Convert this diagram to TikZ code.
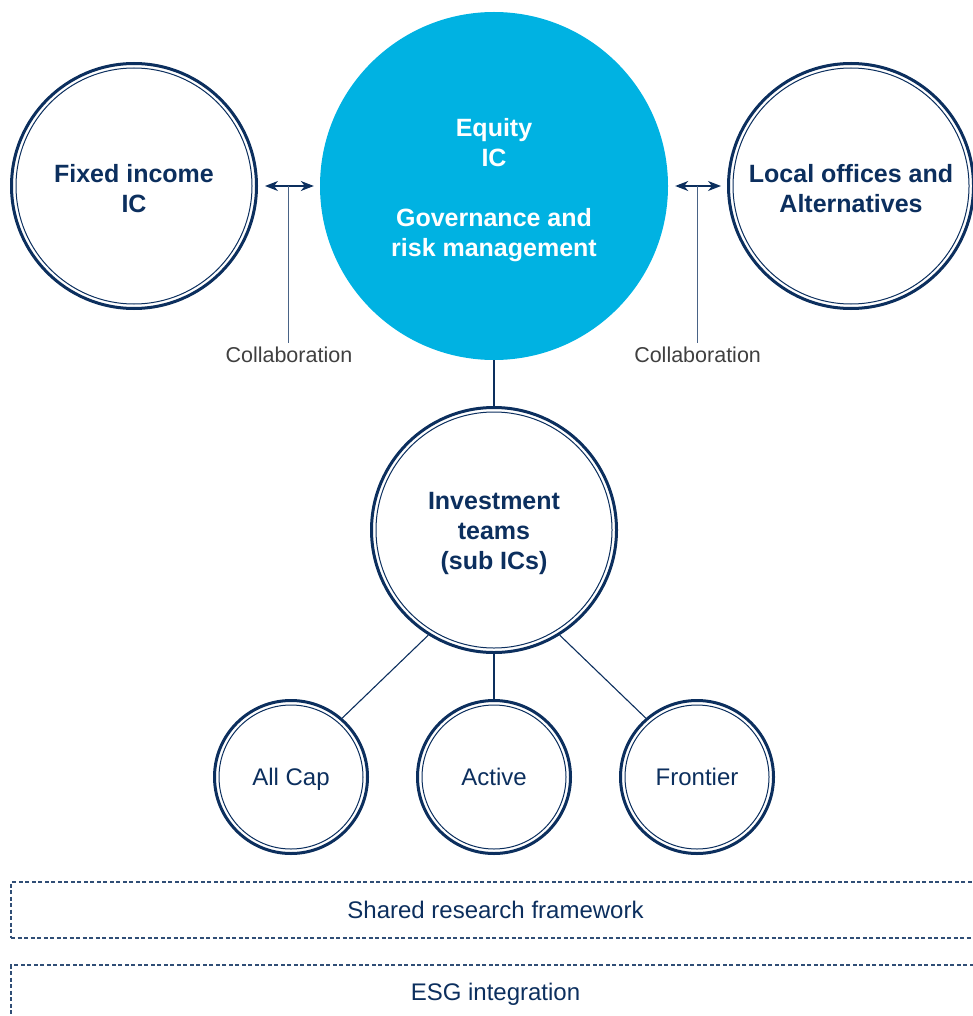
\documentclass[tikz,border=0pt]{standalone}
\usepackage{fontspec}
\setmainfont{Liberation Sans}
\usetikzlibrary{calc,arrows.meta}
\definecolor{navy}{HTML}{0C2F5E}
\definecolor{eqblue}{HTML}{00B2E2}
\definecolor{collgray}{HTML}{404040}
\def\titlefont{\fontsize{25}{30}\selectfont\bfseries}
\def\plainfont{\fontsize{24}{29}\selectfont}
\def\topstrut{\rule{0pt}{24pt}}
\tikzset{
	ring/.style={circle, draw=navy, fill=white, line width=3pt, inner sep=0pt, minimum size={2*#1pt-3pt}, text=navy, align=center,
		path picture={\draw[navy, line width=1pt] (path picture bounding box.center) circle [radius={#1pt-6pt}];}},
	leaf/.style={ring=78, font=\plainfont, text depth=0pt},
	hub/.style={circle, fill=eqblue, inner sep=0pt, minimum size=348pt, text=white, align=center, font=\titlefont},
	band/.style={draw=navy!85, line width=1.2pt, dash pattern=on 4pt off 2.5pt, minimum width=969pt, text=navy, font=\plainfont},
	link/.style={draw=navy, line width=1.1pt},
	twoway/.style={{Stealth[length=13pt,width=10pt,inset=4pt]}-{Stealth[length=13pt,width=10pt,inset=4pt]}, navy, line width=1.3pt, shorten <=7pt, shorten >=6pt},
	collab/.style={text=collgray, inner sep=4pt, font=\fontsize{21.5}{26}\selectfont}
}

\begin{document}
\begin{tikzpicture}[x=1pt, y=-1pt]
			%%%%% START %%%%%
			\useasboundingbox (0, 0) rectangle (972, 1016);
			
			\node[hub] (equity) at (494, 186) {\rule{0pt}{27pt}Equity\\IC\\[30pt]Governance and\\risk management};
			\node[ring=124, font=\titlefont] (fixed) at (134, 186) {\topstrut Fixed income\\IC};
			\node[ring=124, font=\titlefont] (local) at (851, 186) {\topstrut Local offices and\\Alternatives};
			
			\draw[twoway] (fixed) -- (equity);
			\draw[twoway] (equity) -- (local);
			
			\coordinate (midL) at ($(fixed.east)!0.5!(equity.west)$);
			\coordinate (midR) at ($(equity.east)!0.5!(local.west)$);
			\node[collab] (collL) at (midL |- 0, 355) {Collaboration};
			\node[collab] (collR) at (midR |- 0, 355) {Collaboration};
			\draw[link, draw=navy!75, line width=1pt] (collL) -- (midL);
			\draw[link, draw=navy!75, line width=1pt] (collR) -- (midR);
			
			\node[ring=124, font=\titlefont] (invest) at (494, 530) {\topstrut Investment\\teams\\(sub ICs)};
			\draw[link] (equity) -- (invest);
			
			\node[leaf] (allcap) at (291, 777) {All Cap};
			\node[leaf] (active) at (494, 777) {Active};
			\node[leaf] (frontier) at (697, 777) {Frontier};
			
			\draw[link] (invest.-122) -- (allcap.49);
			\draw[link] (invest) -- (active);
			\draw[link] (invest.-58) -- (frontier.131);
			
			\node[band, minimum height=56pt] (shared) at (495.5, 910) {Shared research framework};
			\node[band, minimum height=58pt] (esg) at (495.5, 994) {ESG integration};
			%%%%% END %%%%%
\end{tikzpicture}
\end{document}
